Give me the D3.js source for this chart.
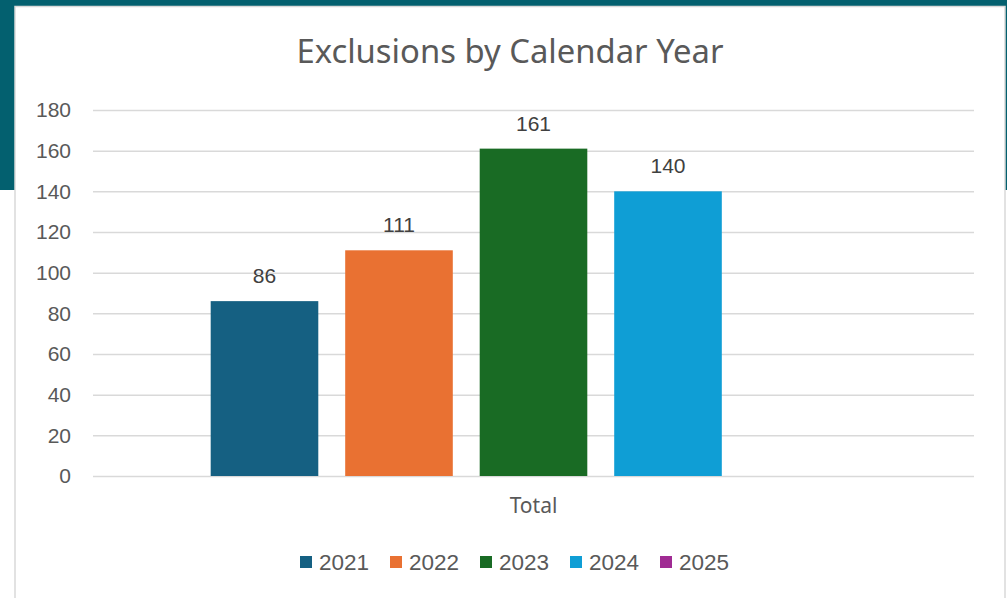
<!DOCTYPE html>
<html>
<head>
<meta charset="utf-8">
<script src="https://cdn.jsdelivr.net/npm/d3@7"></script>
<style>
  html, body { margin: 0; padding: 0; background: #ffffff; }
  svg { display: block; }
</style>
</head>
<body>
<div id="chart"></div>
<script>
// chart data
const categories = ['Total'];
const years = ['2021', '2022', '2023', '2024', '2025'];
const values = [86, 111, 161, 140, null];
const colors = ['#156082', '#e97132', '#196b24', '#0f9ed5', '#a02b93'];
const yTicks = [0, 20, 40, 60, 80, 100, 120, 140, 160, 180];

const width = 1007;
const height = 598;
const plot = { left: 93, right: 974, top: 110, bottom: 476 };

const svg = d3.select('#chart').append('svg')
    .attr('width', width)
    .attr('height', height);

// dark band behind the card
svg.append('rect')
    .attr('x', 0).attr('y', 0)
    .attr('width', width).attr('height', 190)
    .attr('fill', '#03606f');

// white card
svg.append('rect')
    .attr('x', 15).attr('y', 6.5)
    .attr('width', 990).attr('height', 600)
    .attr('fill', '#ffffff')
    .attr('stroke', '#d9d9d9')
    .attr('stroke-width', 1.5);

svg.append('text')
    .attr('x', 510)
    .attr('y', 63)
    .attr('text-anchor', 'middle')
    .attr('font-family', 'Noto Sans, sans-serif')
    .attr('font-size', 32.8)
    .attr('fill', '#595959')
    .text('Exclusions by Calendar Year');

const y = d3.scaleLinear()
    .domain([0, 180])
    .range([plot.bottom, plot.top]);

const x0 = d3.scaleBand()
    .domain(categories)
    .range([plot.left, plot.right])
    .paddingOuter(0.155);

const x1 = d3.scaleBand()
    .domain(years)
    .range([0, x0.bandwidth()])
    .paddingInner(0.2)
    .paddingOuter(0.1);

// gridlines + tick labels
const yAxis = svg.append('g')
    .attr('transform', `translate(${plot.left},0)`)
    .call(d3.axisLeft(y)
        .tickValues(yTicks)
        .tickSize(-(plot.right - plot.left))
        .tickPadding(22));

yAxis.select('.domain').remove();
yAxis.selectAll('.tick line')
    .attr('stroke', '#d9d9d9')
    .attr('stroke-width', 1.5);
yAxis.selectAll('.tick text')
    .attr('font-family', 'Liberation Sans, Arial, sans-serif')
    .attr('font-size', 21)
    .attr('fill', '#595959');

// bars
const group = svg.append('g')
    .attr('transform', `translate(${x0('Total')},0)`);

const series = years.map((yr, i) => ({ year: yr, value: values[i], color: colors[i] }));

group.selectAll('rect')
    .data(series.filter(d => d.value != null))
    .enter().append('rect')
    .attr('x', d => x1(d.year))
    .attr('y', d => y(d.value))
    .attr('width', x1.bandwidth())
    .attr('height', d => y(0) - y(d.value))
    .attr('fill', d => d.color);

group.selectAll('text.label')
    .data(series.filter(d => d.value != null))
    .enter().append('text')
    .attr('class', 'label')
    .attr('x', d => x1(d.year) + x1.bandwidth() / 2)
    .attr('y', d => y(d.value) - 18)
    .attr('text-anchor', 'middle')
    .attr('font-family', 'Liberation Sans, Arial, sans-serif')
    .attr('font-size', 21)
    .attr('fill', '#404040')
    .text(d => d.value);

// category label
svg.append('text')
    .attr('x', x0('Total') + x0.bandwidth() / 2)
    .attr('y', 513)
    .attr('text-anchor', 'middle')
    .attr('font-family', 'Noto Sans, sans-serif')
    .attr('font-size', 21)
    .attr('fill', '#595959')
    .text(categories[0]);

// legend
const legend = svg.append('g')
    .attr('transform', 'translate(300,556)');

const item = legend.selectAll('g')
    .data(series)
    .enter().append('g')
    .attr('transform', (d, i) => `translate(${i * 90},0)`);

item.append('rect')
    .attr('width', 12)
    .attr('height', 12)
    .attr('fill', d => d.color);

item.append('text')
    .attr('x', 19)
    .attr('y', 14)
    .attr('font-family', 'Liberation Sans, Arial, sans-serif')
    .attr('font-size', 22.5)
    .attr('fill', '#595959')
    .text(d => d.year);
</script>
</body>
</html>
